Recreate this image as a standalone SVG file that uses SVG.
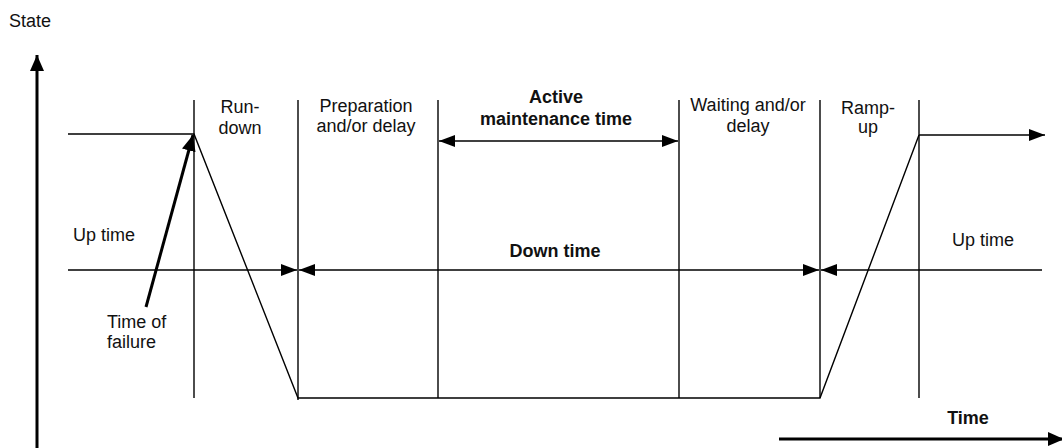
<svg xmlns="http://www.w3.org/2000/svg" width="1062" height="448" viewBox="0 0 1062 448">
  <style>
    .thin { stroke: #000; stroke-width: 1.4; fill: none; }
    .thick { stroke: #000; stroke-width: 3; fill: none; }
    text { font-family: "Liberation Sans", Arial, sans-serif; font-size: 18px; fill: #111; }
    .c { text-anchor: middle; }
    .b { font-weight: bold; }
  </style>
  <defs>
    <marker id="ah" markerUnits="userSpaceOnUse" markerWidth="16" markerHeight="12" refX="16" refY="6" orient="auto-start-reverse">
      <path d="M0,0 L16,6 L0,12 Z" fill="#000"/>
    </marker>
    <marker id="ahBig" markerUnits="userSpaceOnUse" markerWidth="16" markerHeight="14" refX="16" refY="7" orient="auto">
      <path d="M0,0 L16,7 L0,14 Z" fill="#000"/>
    </marker>
  </defs>

  <!-- Axes -->
  <g id="axes">
    <line class="thick" x1="37" y1="448" x2="37" y2="55" marker-end="url(#ahBig)"/>
    <line class="thick" x1="779" y1="439" x2="1064" y2="439" marker-end="url(#ahBig)"/>
    <text x="9" y="27">State</text>
    <text class="b c" x="968" y="424">Time</text>
  </g>

  <!-- Phase boundaries -->
  <g id="boundaries">
    <line class="thin" x1="194" y1="100" x2="194" y2="398"/>
    <line class="thin" x1="298" y1="100" x2="298" y2="400"/>
    <line class="thin" x1="438" y1="100" x2="438" y2="398"/>
    <line class="thin" x1="679" y1="100" x2="679" y2="398"/>
    <line class="thin" x1="820" y1="100" x2="820" y2="398"/>
    <line class="thin" x1="919" y1="100" x2="919" y2="398"/>
  </g>

  <!-- State curve -->
  <g id="state-curve">
    <polyline class="thin" points="68,134 194,134 298,398 820,398 919,135"/>
    <line class="thin" x1="919" y1="135" x2="1045" y2="135" marker-end="url(#ah)"/>
  </g>

  <!-- Duration connectors -->
  <g id="connectors">
    <line class="thin" x1="68" y1="270" x2="297" y2="270" marker-end="url(#ah)"/>
    <line class="thin" x1="299" y1="270" x2="819" y2="270" marker-start="url(#ah)" marker-end="url(#ah)"/>
    <line class="thin" x1="821" y1="270" x2="1042" y2="270" marker-start="url(#ah)"/>
    <line class="thin" x1="439" y1="141" x2="678" y2="141" marker-start="url(#ah)" marker-end="url(#ah)"/>
    <line class="thick" x1="146" y1="307" x2="193" y2="135" marker-end="url(#ahBig)"/>
  </g>

  <!-- Phase labels -->
  <g id="label-rundown">
    <text class="c" x="240" y="113">Run-</text>
    <text class="c" x="240" y="134">down</text>
  </g>
  <g id="label-preparation">
    <text class="c" x="366" y="112">Preparation</text>
    <text class="c" x="366" y="132">and/or delay</text>
  </g>
  <g id="label-active">
    <text class="b c" x="556" y="103">Active</text>
    <text class="b c" x="556" y="125">maintenance time</text>
  </g>
  <g id="label-waiting">
    <text class="c" x="748" y="111">Waiting and/or</text>
    <text class="c" x="748" y="132">delay</text>
  </g>
  <g id="label-rampup">
    <text class="c" x="868" y="114">Ramp-</text>
    <text class="c" x="868" y="133">up</text>
  </g>
  <g id="label-uptime-left">
    <text x="73" y="241">Up time</text>
  </g>
  <g id="label-downtime">
    <text class="b c" x="555" y="257">Down time</text>
  </g>
  <g id="label-uptime-right">
    <text x="952" y="246">Up time</text>
  </g>
  <g id="label-failure">
    <text x="107" y="328">Time of</text>
    <text x="107" y="348">failure</text>
  </g>
</svg>
